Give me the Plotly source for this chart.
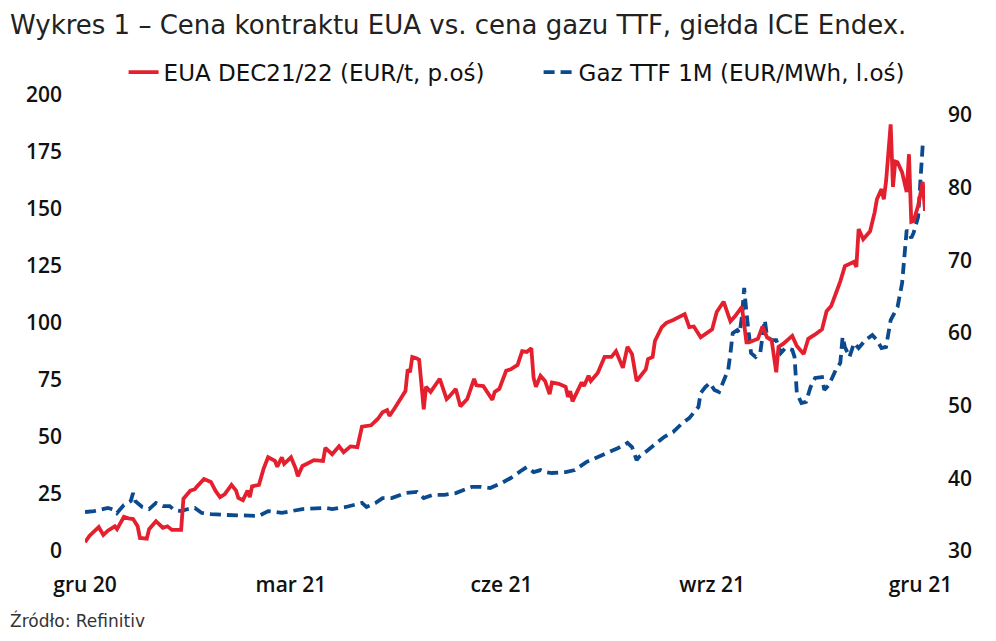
import pandas as pd
import plotly.graph_objects as go

START = pd.Timestamp("2020-12-01")

# EUA DEC21/22 (EUR/t) - right axis; x = days since 1 Dec 2020
eua_days = [0, 2, 6, 8, 10, 13, 14, 17, 19, 21, 23, 24, 27, 28, 31, 34, 36, 38, 42, 43,
            46, 48, 49, 52, 55, 57, 59, 61, 64, 66, 67, 69, 71, 72, 73, 76, 78, 80, 83, 84,
            86, 87, 90, 92, 93, 95, 97, 100, 104, 105, 108, 111, 113, 116, 119, 121, 125, 128, 130, 132,
            133, 135, 140, 141, 142, 143, 145, 146, 148, 149, 151, 155, 158, 159, 162, 164, 167, 170, 171, 174,
            178, 179, 181, 184, 186, 189, 191, 193, 195, 196, 197, 199, 201, 203, 204, 207, 210, 211, 212, 213,
            217, 218, 220, 221, 224, 227, 230, 232, 235, 237, 239, 241, 245, 246, 248, 249, 252, 254, 257, 260,
            262, 264, 266, 269, 272, 274, 276, 279, 282, 284, 287, 289, 290, 294, 296, 298, 300, 302, 303, 305,
            309, 311, 314, 316, 319, 322, 324, 326, 328, 330, 332, 336, 337, 338, 340, 343, 345, 346, 348, 349,
            350, 352, 353, 354, 355, 357, 359, 360, 361, 362, 364, 366, 367]
eua_vals = [31.2, 32.1, 33.3, 32.2, 32.8, 33.4, 33.0, 34.7, 34.5, 34.4, 33.4, 31.8, 31.7, 33.0, 34.1, 33.2, 33.4, 32.9, 32.9, 37.2,
            38.3, 38.5, 38.9, 39.9, 39.5, 38.3, 37.4, 37.8, 39.1, 38.3, 37.3, 37.0, 38.3, 37.4, 38.9, 39.1, 41.3, 42.9, 42.4, 41.6,
            42.9, 42.0, 42.9, 41.4, 40.3, 41.7, 42.0, 42.5, 42.4, 44.2, 43.3, 44.4, 43.6, 44.4, 44.3, 47.1, 47.3, 48.2, 49.1, 49.4,
            48.6, 49.5, 52.0, 55.0, 54.6, 56.7, 56.5, 56.3, 49.5, 52.6, 51.9, 53.7, 50.9, 51.2, 52.3, 49.9, 50.9, 53.7, 52.8, 52.7,
            50.8, 51.9, 52.3, 54.8, 55.0, 55.6, 57.5, 57.4, 57.9, 53.8, 52.6, 54.1, 53.4, 51.6, 53.2, 53.0, 52.6, 51.2, 52.0, 50.6,
            53.2, 52.7, 54.1, 53.4, 54.5, 56.7, 56.7, 57.5, 55.2, 58.1, 57.1, 53.4, 55.0, 56.4, 56.7, 58.9, 60.8, 61.4, 61.8, 62.3,
            62.6, 60.8, 60.9, 59.4, 60.1, 60.5, 62.9, 64.3, 61.6, 62.3, 63.6, 58.7, 58.7, 59.2, 60.9, 59.4, 59.0, 54.6, 58.1, 58.5,
            59.6, 58.2, 57.1, 59.2, 59.8, 60.5, 63.0, 63.7, 65.4, 67.1, 69.2, 69.8, 69.1, 74.3, 72.9, 74.0, 76.6, 78.4, 79.8, 78.4,
            80.9, 88.7, 80.1, 83.6, 83.5, 82.1, 79.4, 84.6, 75.3, 75.4, 77.5, 80.8, 76.8]

# Gaz TTF 1M (EUR/MWh) - left axis; x = days since 1 Dec 2020
ttf_days = [0, 4, 10, 13, 14, 17, 20, 21, 22, 25, 28, 31, 34, 37, 39, 42, 45, 48, 51, 55,
            62, 76, 80, 86, 95, 105, 108, 114, 121, 123, 127, 130, 134, 140, 145, 148, 152, 157, 162, 169,
            173, 177, 182, 186, 191, 193, 196, 199, 201, 204, 210, 214, 219, 224, 229, 233, 237, 239, 241, 242,
            246, 250, 253, 257, 261, 264, 268, 269, 271, 273, 275, 277, 279, 281, 282, 283, 285, 286, 287, 288,
            289, 290, 291, 293, 295, 297, 298, 300, 302, 304, 306, 309, 310, 311, 313, 315, 317, 319, 321, 322,
            323, 325, 328, 330, 331, 332, 334, 336, 338, 341, 344, 346, 348, 350, 352, 355, 357, 358, 359, 361,
            362, 364, 365, 366]
ttf_vals = [17.1, 17.5, 18.9, 18.0, 16.7, 20.2, 21.9, 25.4, 21.9, 19.3, 18.4, 21.1, 19.7, 19.7, 18.0, 17.5, 18.4, 18.9, 16.7, 16.2,
            15.8, 15.4, 17.5, 16.7, 18.4, 18.9, 18.4, 19.3, 21.1, 19.3, 21.1, 23.2, 23.2, 25.4, 25.9, 23.2, 24.6, 24.6, 25.4, 28.1,
            28.1, 27.6, 29.8, 32.0, 35.5, 36.8, 34.6, 35.5, 34.6, 34.2, 34.6, 35.5, 39.0, 41.2, 43.0, 45.2, 47.4, 45.6, 39.9, 41.2,
            44.3, 47.8, 50.0, 52.2, 56.1, 58.3, 63.2, 69.3, 71.9, 73.7, 70.6, 69.7, 75.0, 79.4, 86.8, 95.6, 96.9, 95.6, 102.6, 115.4,
            104.4, 95.6, 86.8, 85.1, 86.8, 101.3, 93.9, 92.5, 92.5, 86.8, 89.0, 88.2, 85.1, 69.3, 64.9, 65.4, 71.9, 75.9, 75.9, 76.3,
            70.6, 72.8, 79.4, 82.5, 93.9, 89.5, 85.1, 91.2, 89.0, 92.5, 94.7, 92.5, 89.0, 89.5, 101.3, 107.0, 117.5, 127.6, 140.8, 137.3,
            139.5, 146.5, 161.4, 178.1]

tick_dates = ["2020-12-01", "2021-03-01", "2021-06-01", "2021-09-01", "2021-12-01"]
tick_text = ["gru 20", "mar 21", "cze 21", "wrz 21", "gru 21"]
left_ticks = [0, 25, 50, 75, 100, 125, 150, 175, 200]
right_ticks = [30, 40, 50, 60, 70, 80, 90]

eua_x = START + pd.to_timedelta(eua_days, unit="D")
ttf_x = START + pd.to_timedelta(ttf_days, unit="D")

TICKFONT = "Open Sans"
TEXTFONT = "DejaVu Sans"
RED = "#E4202E"
BLUE = "#0B4A8E"
INK = "#111111"

fig = go.Figure()
fig.add_trace(go.Scatter(x=eua_x, y=eua_vals, mode="lines", name="EUA DEC21/22 (EUR/t, p.oś)",
                         line=dict(color=RED, width=3.8), yaxis="y2"))
fig.add_trace(go.Scatter(x=ttf_x, y=ttf_vals, mode="lines", name="Gaz TTF 1M (EUR/MWh, l.oś)",
                         line=dict(color=BLUE, width=3.8, dash="11px,6px"), yaxis="y"))

tickfont = dict(size=21, color=INK, family=TICKFONT, weight=600)

fig.update_layout(
    width=980, height=625,
    margin=dict(l=77, r=63, t=87, b=82),
    paper_bgcolor="white", plot_bgcolor="white",
    font=dict(family=TEXTFONT, color=INK),
    showlegend=True,
    legend=dict(orientation="h", x=0.54, xanchor="center", y=1.05, yanchor="middle",
                entrywidth=370, entrywidthmode="pixels",
                font=dict(size=23, color=INK, family=TEXTFONT), traceorder="normal"),
    xaxis=dict(type="date", range=[START, START + pd.Timedelta(days=367)],
               tickvals=tick_dates, ticktext=tick_text, showgrid=False, zeroline=False,
               showline=False, ticks="", ticklabelstandoff=19, tickfont=tickfont),
    yaxis=dict(range=[0, 200], tickvals=left_ticks, showgrid=False, zeroline=False,
               showline=False, ticks="", ticklabelstandoff=22, tickfont=tickfont),
    yaxis2=dict(range=[30, 92.75], tickvals=right_ticks, overlaying="y", side="right",
                showgrid=False, zeroline=False, showline=False, ticks="", ticklabelstandoff=22,
                tickfont=tickfont),
    annotations=[
        dict(text="Wykres 1 – Cena kontraktu EUA vs. cena gazu TTF, giełda ICE Endex.",
             xref="paper", yref="paper", x=0, y=1, xshift=-77, yshift=70,
             xanchor="left", yanchor="middle", showarrow=False,
             font=dict(size=26, color="#222222", family=TEXTFONT)),
        dict(text="Źródło: Refinitiv", xref="paper", yref="paper", x=0, y=0,
             xshift=-77, yshift=-82, xanchor="left", yanchor="bottom", showarrow=False,
             font=dict(size=17, color="#333333", family=TEXTFONT)),
    ],
)

fig.write_html("out.html")
